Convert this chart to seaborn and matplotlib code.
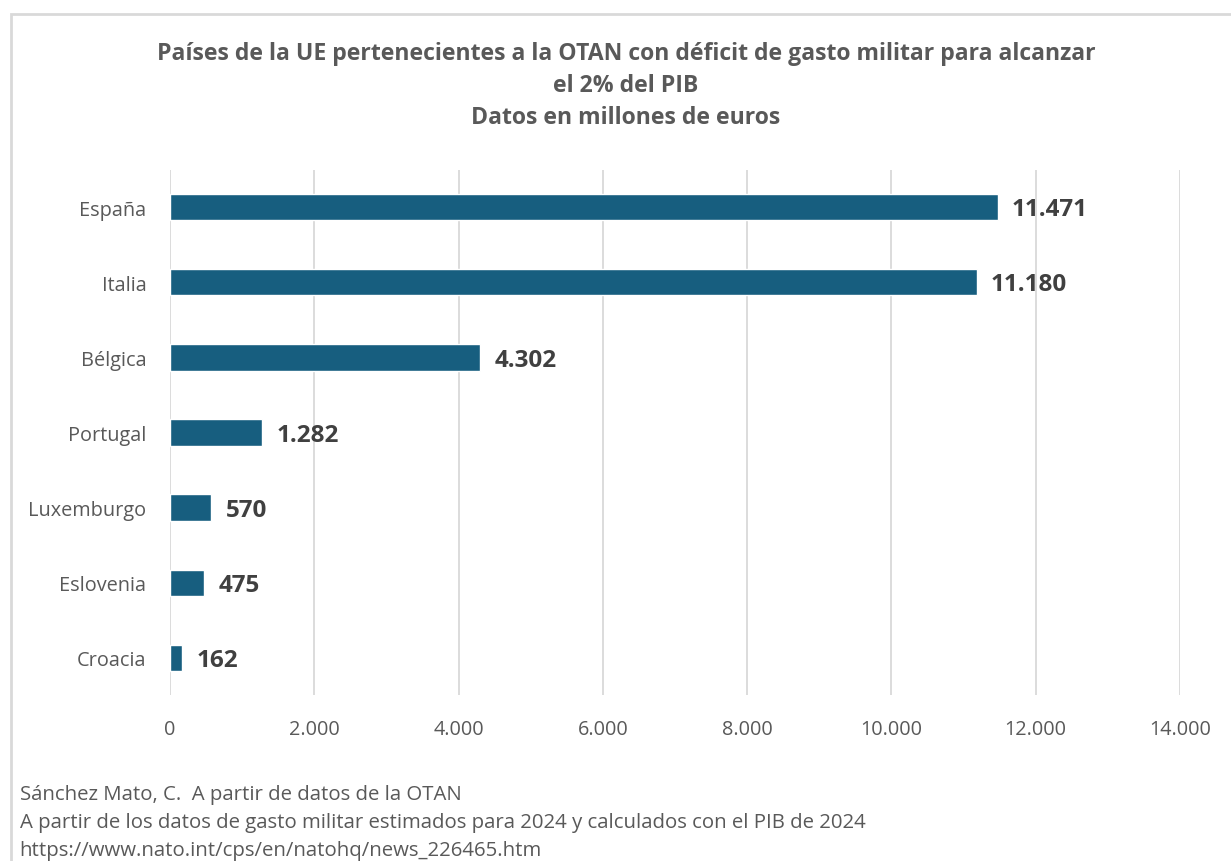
import matplotlib
matplotlib.use("Agg")
import matplotlib.pyplot as plt
import matplotlib.ticker as mticker
from matplotlib.patches import Rectangle
import seaborn as sns
import pandas as pd

paises = ["España", "Italia", "Bélgica", "Portugal", "Luxemburgo", "Eslovenia", "Croacia"]
deficit = [11471, 11180, 4302, 1282, 570, 475, 162]
x_ticks = [0, 2000, 4000, 6000, 8000, 10000, 12000, 14000]

titulo = ("Países de la UE pertenecientes a la OTAN con déficit de gasto militar para alcanzar\n"
          "el 2% del PIB\nDatos en millones de euros")
fuente = ["Sánchez Mato, C.  A partir de datos de la OTAN",
          "A partir de los datos de gasto militar estimados para 2024 y calculados con el PIB de 2024",
          "https://www.nato.int/cps/en/natohq/news_226465.htm"]

sns.set_theme(style="white")
plt.rcParams['font.family'] = ['Open Sans', 'DejaVu Sans']

def miles(v):
    return f"{int(round(v)):,}".replace(",", ".")

df = pd.DataFrame({"pais": paises, "deficit": deficit})

fig = plt.figure(figsize=(12.31, 8.62), dpi=100)
ax = fig.add_axes([0.1381, 0.192, 0.8205, 0.6102])

sns.barplot(data=df, x="deficit", y="pais", orient="h", color="#175e7f",
            width=0.35, saturation=1, ax=ax)

ax.set_xlim(0, 14000)
ax.set_xticks(x_ticks)
ax.xaxis.set_major_formatter(mticker.FuncFormatter(lambda v, p: miles(v)))
ax.grid(axis="x", color="#d9d9d9", linewidth=1.3)
ax.set_axisbelow(True)
for s in ax.spines.values():
    s.set_visible(False)
ax.set_xlabel("")
ax.set_ylabel("")
ax.tick_params(axis="both", length=0, labelsize=14.3, labelcolor="#595959")
ax.tick_params(axis="x", pad=17)
ax.tick_params(axis="y", pad=17)

for i, v in enumerate(deficit):
    ax.text(v + 200, i + 0.03, miles(v), va="center", ha="left",
            fontsize=17.5, fontweight="bold", color="#404040")

fig.text(0.5085, 0.9507, titulo, ha="center", va="top", fontsize=16.6,
         fontweight="bold", color="#595959", linespacing=1.42)

for k, linea in enumerate(fuente):
    fig.text(0.016, 0.0777 - k * 0.0325, linea, ha="left", va="center",
             fontsize=14.7, color="#595959")

fig.patches.append(Rectangle((11 / 1231, -0.05), 1.1, 1 - 15 / 862 + 0.05,
                             transform=fig.transFigure, fill=False,
                             edgecolor="#d9d9d9", linewidth=2))

fig.savefig("out.png", dpi=100)
